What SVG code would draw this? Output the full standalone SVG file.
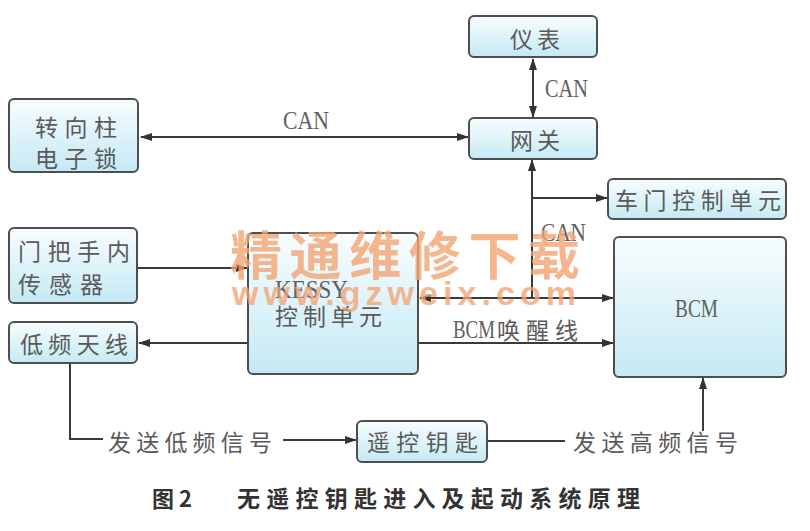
<svg xmlns="http://www.w3.org/2000/svg" width="810" height="531" viewBox="0 0 810 531">
<defs>
<linearGradient id="g" x1="0" y1="0" x2="0" y2="1"><stop offset="0" stop-color="#f8fdfe"/><stop offset="1" stop-color="#c4e9f5"/></linearGradient>
<marker id="ah" viewBox="0 0 12 8" refX="11" refY="4" markerWidth="12" markerHeight="8" markerUnits="userSpaceOnUse" orient="auto-start-reverse"><path d="M0,0 L12,4 L0,8 z" fill="#333"/></marker>
</defs>
<style>
.box{fill:url(#g);stroke:#4e4e4e;stroke-width:2}
.t{font-family:"Noto Sans CJK SC","Liberation Sans",sans-serif;font-size:23px;fill:#5a5a5a;dominant-baseline:central}
.l{font-family:"Liberation Serif",serif;font-size:25px;fill:#606060;dominant-baseline:central}
.c{fill:none;stroke:#3a3a3a;stroke-width:2}
.wm{font-weight:bold;fill:#f3a472;fill-opacity:0.8;dominant-baseline:central}
</style>
<rect width="810" height="531" fill="#fff"/>

<g id="connectors">
<line class="c" x1="141" y1="137" x2="468" y2="137" marker-start="url(#ah)" marker-end="url(#ah)"/>
<line class="c" x1="533" y1="59" x2="533" y2="117" marker-start="url(#ah)" marker-end="url(#ah)"/>
<line class="c" x1="532" y1="298" x2="532" y2="160" marker-end="url(#ah)"/>
<line class="c" x1="532" y1="198" x2="607" y2="198" marker-end="url(#ah)"/>
<line class="c" x1="420" y1="298" x2="613" y2="298" marker-start="url(#ah)" marker-end="url(#ah)"/>
<line class="c" x1="138" y1="268" x2="247" y2="268" marker-end="url(#ah)"/>
<line class="c" x1="248" y1="343" x2="139" y2="343" marker-end="url(#ah)"/>
<line class="c" x1="419" y1="343" x2="613" y2="343" marker-end="url(#ah)"/>
<polyline class="c" points="70,363 70,439 103,439"/>
<line class="c" x1="283" y1="440" x2="356" y2="440" marker-end="url(#ah)"/>
<line class="c" x1="487" y1="441" x2="565" y2="441"/>
<line class="c" x1="703" y1="431" x2="703" y2="378" marker-end="url(#ah)"/>
<text class="l" x="283" y="120" textLength="46" lengthAdjust="spacingAndGlyphs">CAN</text>
<text class="l" x="545" y="88" textLength="43" lengthAdjust="spacingAndGlyphs">CAN</text>
<text class="l" x="541" y="232" textLength="45" lengthAdjust="spacingAndGlyphs">CAN</text>
<text class="l" x="453" y="329" textLength="42" lengthAdjust="spacingAndGlyphs">BCM</text>
<text class="t" x="497" y="329" textLength="81" lengthAdjust="spacing">唤醒线</text>
<text class="t" x="108" y="441" textLength="164" lengthAdjust="spacing">发送低频信号</text>
<text class="t" x="573" y="441" textLength="165" lengthAdjust="spacing">发送高频信号</text>
</g>

<g id="yibiao"><rect class="box" x="469" y="16" width="128" height="41" rx="5"/><text class="t" x="510" y="38" textLength="50" lengthAdjust="spacing">仪表</text></g>
<g id="wangguan"><rect class="box" x="469" y="118" width="128" height="41" rx="5"/><text class="t" x="510" y="139" textLength="50" lengthAdjust="spacing">网关</text></g>
<g id="zhuanxiangzhu"><rect class="box" x="9" y="99" width="129" height="73" rx="5"/><text class="t" x="35" y="126" textLength="82" lengthAdjust="spacing">转向柱</text><text class="t" x="35" y="157" textLength="82" lengthAdjust="spacing">电子锁</text></g>
<g id="chemen"><rect class="box" x="608" y="179" width="178" height="40" rx="5"/><text class="t" x="615" y="199" textLength="166" lengthAdjust="spacing">车门控制单元</text></g>
<g id="menbashou"><rect class="box" x="9" y="228" width="128" height="75" rx="5"/><text class="t" x="18" y="250" textLength="112" lengthAdjust="spacing">门把手内</text><text class="t" x="18" y="283" textLength="85" lengthAdjust="spacing">传感器</text></g>
<g id="dipintianxian"><rect class="box" x="9" y="322" width="128" height="41" rx="5"/><text class="t" x="20" y="343" textLength="108" lengthAdjust="spacing">低频天线</text></g>
<g id="kessy"><rect class="box" x="248" y="233" width="170" height="141" rx="5"/><text class="l" x="275" y="289" textLength="73" lengthAdjust="spacingAndGlyphs">KESSY</text><text class="t" x="275" y="315" textLength="107" lengthAdjust="spacing">控制单元</text></g>
<g id="bcm"><rect class="box" x="614" y="237" width="172" height="140" rx="5"/><text class="l" x="675" y="308" textLength="43" lengthAdjust="spacingAndGlyphs">BCM</text></g>
<g id="yaokong"><rect class="box" x="357" y="421" width="130" height="41" rx="5"/><text class="t" x="367" y="441" textLength="111" lengthAdjust="spacing">遥控钥匙</text></g>

<text x="152" y="497" style="font-family:'Noto Sans CJK SC',sans-serif;font-weight:bold;font-size:22px;fill:#333;dominant-baseline:central">图 2</text>
<text x="237" y="497" textLength="403" lengthAdjust="spacing" style="font-family:'Noto Sans CJK SC',sans-serif;font-weight:bold;font-size:23px;fill:#333;dominant-baseline:central">无遥控钥匙进入及起动系统原理</text>

<text class="wm" x="230" y="252" textLength="350" lengthAdjust="spacing" style="font-family:'Noto Sans CJK SC',sans-serif;font-size:52px">精通维修下载</text>
<text class="wm" x="232" y="293" textLength="344" lengthAdjust="spacing" style="font-family:'Liberation Sans',sans-serif;font-size:34px">www.gzweix.com</text>
</svg>
